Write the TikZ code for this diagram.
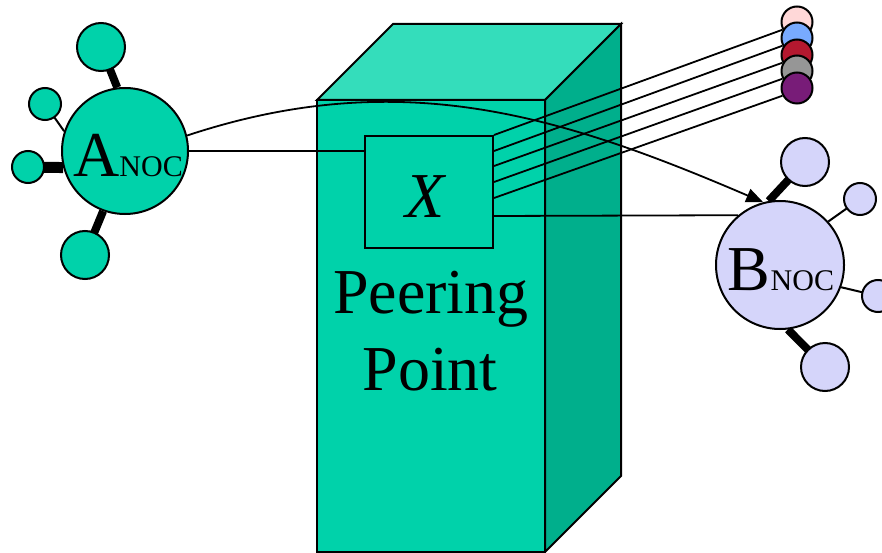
\documentclass[tikz,border=0pt]{standalone}
\usepackage{fontspec}
\setmainfont{Liberation Serif}
\newfontfamily\tnr{Liberation Serif}
\usetikzlibrary{arrows.meta,backgrounds}
\definecolor{tealfront}{RGB}{0,210,170}
\definecolor{tealtop}{RGB}{52,221,187}
\definecolor{tealside}{RGB}{0,175,140}
\definecolor{lav}{RGB}{213,213,250}
\definecolor{cpink}{RGB}{255,216,216}
\definecolor{cblue}{RGB}{120,170,255}
\definecolor{cred}{RGB}{180,24,47}
\definecolor{cgray}{RGB}{150,150,150}
\definecolor{cpurple}{RGB}{120,28,120}
\begin{document}
\begin{tikzpicture}[x=1pt,y=-1pt,line width=2pt,
  ball/.style={circle,draw,line width=2pt,inner sep=0pt,minimum size=#1},
  ahub/.style={ball=#1,fill=tealfront},
  bhub/.style={ball=#1,fill=lav},
  big/.style={font=\tnr\fontsize{64}{77}\selectfont},
  conn/.style={line width=1.8pt},
  thin/.style={line width=2pt},
  thick/.style={line width=8pt},
  vthick/.style={line width=11pt}]
\useasboundingbox (0,0) rectangle (882,553);
% cube
\draw[fill=tealtop] (317,100) -- (393,24) -- (621,24) -- (545,100) -- cycle;
\draw[fill=tealside] (545,100) -- (621,24) -- (621,476) -- (545,552) -- cycle;
\draw[fill=tealfront] (317,100) rectangle (545,552);
\node[big,anchor=base] (peer) at (431,313) {Peering};
\node[big,anchor=base] (point) at (430,390) {Point};
% X box
\node[draw,fill=tealfront,minimum width=128pt,minimum height=112pt,inner sep=0pt] (X) at (429,192) {};
\node[big,anchor=base] (Xt) at (425,218) {\itshape X};
% A hub
\node[ahub=126pt] (A) at (125,151) {};
\node[anchor=base,inner sep=0pt] (At) at (128,177) {\tnr\fontsize{64}{64}\selectfont A\fontsize{30}{30}\selectfont NOC};
\node[ahub=48pt] (at) at (101,47) {};
\node[ahub=32pt] (aul) at (45,104) {};
\node[ahub=32pt] (al) at (28,167) {};
\node[ahub=48pt] (ab) at (85,255) {};
% B hub
\node[bhub=128pt] (B) at (780,265) {};
\node[anchor=base,inner sep=0pt] (Bt) at (781,290) {\tnr\fontsize{64}{64}\selectfont B\fontsize{30}{30}\selectfont NOC};
\node[bhub=48pt] (bt) at (805,162) {};
\node[bhub=32pt] (bur) at (860,199) {};
\node[bhub=32pt] (br) at (878,296) {};
\node[bhub=48pt] (bb) at (825,367) {};
\begin{pgfonlayer}{background}
  \draw[thick] (at.center) -- (A.97);
  \draw[thin] (aul.center) -- (A.162);
  \draw[vthick] (al.center) -- (A.195);
  \draw[thick] (ab.center) -- (A.-110);
  \draw[thick] (bt.center) -- (B.100);
  \draw[thin] (bur.center) -- (B.42);
  \draw[thin] (br.center) -- (B.-20);
  \draw[thick] (bb.center) -- (B.-83);
\end{pgfonlayer}
% coloured circles
\node[ball=31pt,fill=cpink] (p1) at (797,22) {};
\node[ball=31pt,fill=cblue] (p2) at (797,38) {};
\node[ball=31pt,fill=cred] (p3) at (797,55) {};
\node[ball=31pt,fill=cgray] (p4) at (797,71) {};
\node[ball=31pt,fill=cpurple] (p5) at (797,88) {};
% connectors
\draw[conn] (X.north east) -- (p1.208);
\draw[conn] ([yshift=-16pt]X.north east) -- (p2.208);
\draw[conn] ([yshift=-31pt]X.north east) -- (p3.208);
\draw[conn] ([yshift=-47pt]X.north east) -- (p4.208);
\draw[conn] ([yshift=-63pt]X.north east) -- (p5.208);
\draw[conn] (A.east) -- (A.east -| X.west);
\draw[conn] ([yshift=-24pt]X.east) -- (B.130);
\draw[conn,-{Triangle[length=17pt,width=14pt]}] (A.14) .. controls (400,65) and (560,115) .. (B.105);
\end{tikzpicture}
\end{document}
